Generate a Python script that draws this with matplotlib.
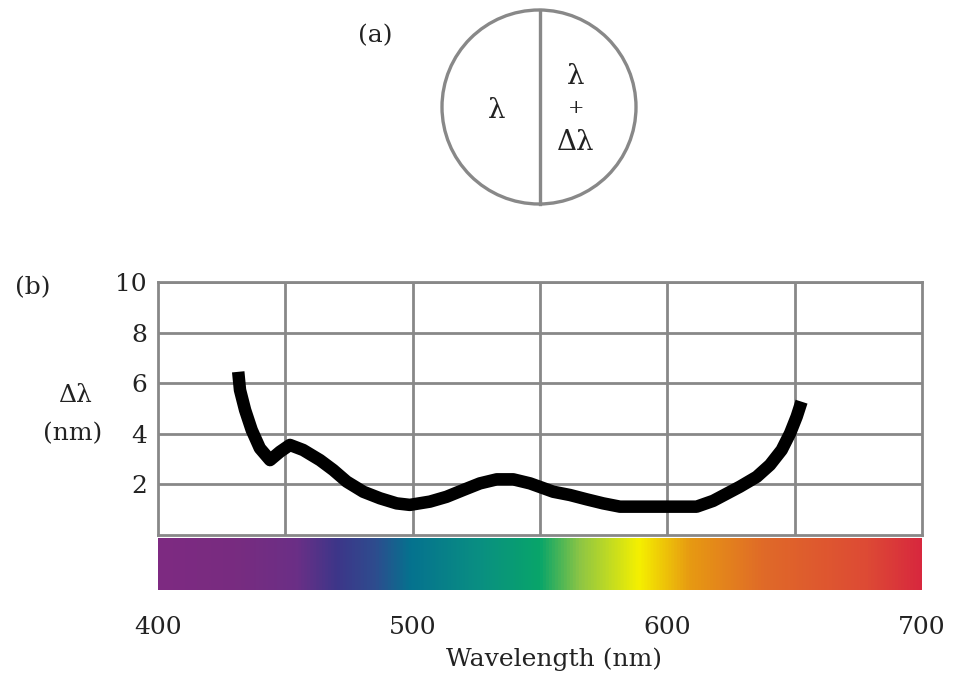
import matplotlib
matplotlib.use("Agg")
import matplotlib.pyplot as plt
import numpy as np
from matplotlib.colors import LinearSegmentedColormap
from matplotlib.patches import Circle

# Data
wavelength = [431.5, 432.2, 434.2, 436.8, 440.0, 444.0, 447.9, 451.8, 457.0,
              463.6, 468.8, 474.1, 480.6, 487.2, 493.7, 498.9, 506.8, 513.3,
              519.9, 526.4, 533.0, 539.5, 546.1, 555.2, 561.8, 568.3, 574.8,
              581.4, 601.0, 611.5, 618.0, 628.5, 635.1, 640.3, 644.9, 648.2,
              650.8, 652.7]
delta_lambda = [6.45, 5.73, 4.94, 4.15, 3.43, 2.96, 3.29, 3.56, 3.36,
                2.96, 2.57, 2.11, 1.71, 1.45, 1.25, 1.19, 1.32, 1.51,
                1.78, 2.04, 2.20, 2.20, 2.04, 1.71, 1.58, 1.41, 1.25,
                1.12, 1.12, 1.12, 1.35, 1.91, 2.30, 2.77, 3.36, 4.02,
                4.68, 5.27]

y_ticks = [2, 4, 6, 8, 10]
x_ticks = [400, 500, 600, 700]

# spectrum strip colours
spec_wl = [400, 430, 454, 470, 485, 499, 526, 550, 566, 589, 609, 638, 679, 700]
spec_col = ["#7e2a82", "#782c80", "#6b2f86", "#3d3689", "#2e4c8e", "#05728f",
            "#0a8f82", "#08a56a", "#8ec644", "#f5f000", "#e79a12", "#e06a28",
            "#dd4a35", "#d8283e"]

plt.rcParams["font.family"] = ["DejaVu Serif"]
text_col = "#222222"
grid_col = "#888888"
fs = 18

W, H = 956, 682
fig = plt.figure(figsize=(W / 100, H / 100), dpi=100)

# %%
# Main plot (b)
ax = fig.add_axes([158 / W, 1 - 535 / H, 764 / W, 253 / H])
ax.plot(wavelength, delta_lambda, color="black", lw=9,
        solid_capstyle="butt", solid_joinstyle="round", zorder=3)
ax.set_xlim(400, 700)
ax.set_ylim(0, 10)
ax.set_xticks(np.arange(450, 700, 50))
ax.set_yticks(y_ticks)
ax.set_xticklabels([])
ax.grid(True, color=grid_col, lw=2)
ax.tick_params(length=0, labelsize=fs, colors=text_col, pad=8)
for s in ax.spines.values():
    s.set_color(grid_col)
    s.set_linewidth(2)

# Spectrum strip
cax = fig.add_axes([158 / W, 1 - 590 / H, 764 / W, 52 / H])
pos = [(w - 400) / 300 for w in spec_wl]
cmap = LinearSegmentedColormap.from_list("spec", list(zip(pos, spec_col)))
cax.imshow(np.linspace(0, 1, 512)[None, :], cmap=cmap, aspect="auto",
           extent=[400, 700, 0, 1])
cax.set_xlim(400, 700)
cax.set_yticks([])
cax.set_xticks(x_ticks)
cax.tick_params(length=0, labelsize=fs, colors=text_col, pad=19)
for s in cax.spines.values():
    s.set_visible(False)
cax.set_xlabel("Wavelength (nm)", fontsize=fs, color=text_col)
cax.xaxis.set_label_coords(0.518, -1.1)

# %%
# Overlay in pixel coordinates for panel (a) and labels
ov = fig.add_axes([0, 0, 1, 1], zorder=5)
ov.set_xlim(0, W)
ov.set_ylim(H, 0)
ov.axis("off")
ov.patch.set_alpha(0)

ov.add_patch(Circle((539, 107), 97, fill=False, ec=grid_col, lw=2.4))
ov.plot([540, 540], [10, 204], color=grid_col, lw=2.4)
ov.text(375, 36, "(a)", fontsize=fs, ha="center", va="center", color=text_col)
ov.text(497, 110, "λ", fontsize=20, ha="center", va="center", color=text_col)
ov.text(576, 76, "λ", fontsize=20, ha="center", va="center", color=text_col)
ov.text(576, 108, "+", fontsize=14, ha="center", va="center", color=text_col)
ov.text(576, 143, "Δλ", fontsize=20, ha="center", va="center", color=text_col)

ov.text(33, 288, "(b)", fontsize=fs, ha="center", va="center", color=text_col)
ov.text(75, 396, "Δλ", fontsize=fs, ha="center", va="center", color=text_col)
ov.text(73, 434, "(nm)", fontsize=fs, ha="center", va="center", color=text_col)

fig.savefig("out.png", dpi=100)
